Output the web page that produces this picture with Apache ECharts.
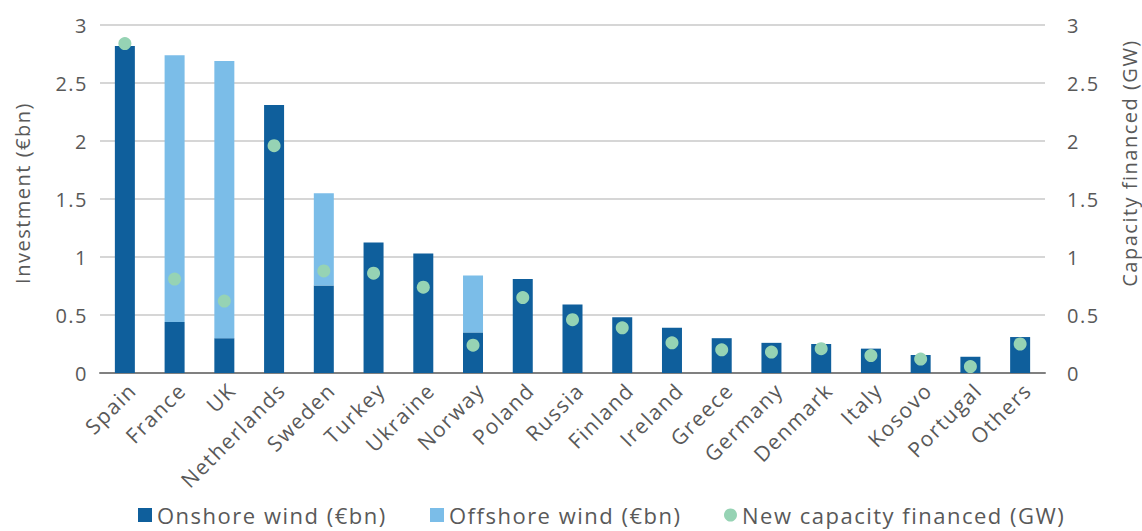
<!DOCTYPE html>
<html><head><meta charset="utf-8">
<script src="https://cdn.jsdelivr.net/npm/echarts@6/dist/echarts.min.js"></script>
<style>html,body{margin:0;padding:0;background:#fff}#c{width:1142px;height:531px}#c text{letter-spacing:1.5px}</style>
</head><body><div id="c"></div>
<script>
const categories = ["Spain","France","UK","Netherlands","Sweden","Turkey","Ukraine","Norway","Poland","Russia","Finland","Ireland","Greece","Germany","Denmark","Italy","Kosovo","Portugal","Others"];
const onshore = [2.82,0.44,0.30,2.31,0.755,1.125,1.03,0.35,0.81,0.59,0.48,0.39,0.30,0.26,0.25,0.21,0.155,0.14,0.31];
const offshore = [0,2.30,2.39,0,0.795,0,0,0.49,0,0,0,0,0,0,0,0,0,0,0];
const capacity = [2.84,0.81,0.62,1.96,0.88,0.86,0.74,0.24,0.65,0.46,0.39,0.26,0.20,0.18,0.21,0.15,0.12,0.055,0.25];
const yTicks = [0,0.5,1,1.5,2,2.5,3];
const leftTitle = 'Investment (€bn)';
const rightTitle = 'Capacity financed (GW)';

const FONT = "Open Sans";
const TXT = "#595959";
const chart = echarts.init(document.getElementById('c'), null, {renderer:'svg'});
const legendText = {fontSize:22,color:TXT,fontFamily:FONT};
chart.setOption({
  animation:false,
  textStyle:{fontFamily:FONT},
  grid:{left:100,right:97,top:25,bottom:158},
  legend:[
    {top:499,left:133,itemWidth:14,itemHeight:14,itemGap:5,textStyle:legendText,
     data:[{name:'Onshore wind (€bn)',icon:'rect'}]},
    {top:499,left:425,itemWidth:14,itemHeight:14,itemGap:5,textStyle:legendText,
     data:[{name:'Offshore wind (€bn)',icon:'rect'}]},
    {top:499,left:719,itemWidth:13,itemHeight:13,itemGap:6,textStyle:legendText,
     data:[{name:'New capacity financed (GW)',icon:'circle'}]}
  ],
  graphic:[
    {type:'text',x:22,y:193,rotation:Math.PI/2,style:{text:leftTitle,fontSize:20,fill:TXT,fontFamily:FONT,align:'center',verticalAlign:'middle'}},
    {type:'text',x:1129,y:163,rotation:Math.PI/2,style:{text:rightTitle,fontSize:20,fill:TXT,fontFamily:FONT,align:'center',verticalAlign:'middle'}}
  ],
  xAxis:{
    type:'category',data:categories,
    axisLine:{lineStyle:{color:'#808080',width:2}},
    axisTick:{show:false},
    axisLabel:{rotate:45,fontSize:21,color:TXT,margin:6,interval:0,verticalAlign:'top'}
  },
  yAxis:[
    {type:'value',min:0,max:3,interval:0.5,
     axisLabel:{fontSize:20,color:TXT,margin:12,formatter:v=>String(v)},
     splitLine:{lineStyle:{color:'#c8c8c8',width:1.5}},axisLine:{show:false},axisTick:{show:false}},
    {type:'value',min:0,max:3,interval:0.5,
     axisLabel:{fontSize:20,color:TXT,margin:22,formatter:v=>String(v)},
     splitLine:{show:false},axisLine:{show:false},axisTick:{show:false}}
  ],
  series:[
    {name:'Onshore wind (€bn)',type:'bar',stack:'inv',data:onshore,barWidth:20,itemStyle:{color:'#0f5f9c'}},
    {name:'Offshore wind (€bn)',type:'bar',stack:'inv',data:offshore,barWidth:20,itemStyle:{color:'#7bbde8'}},
    {name:'New capacity financed (GW)',type:'scatter',yAxisIndex:1,data:capacity,symbolSize:13,itemStyle:{color:'#96d3b4',opacity:1},z:5}
  ]
});
</script></body></html>
